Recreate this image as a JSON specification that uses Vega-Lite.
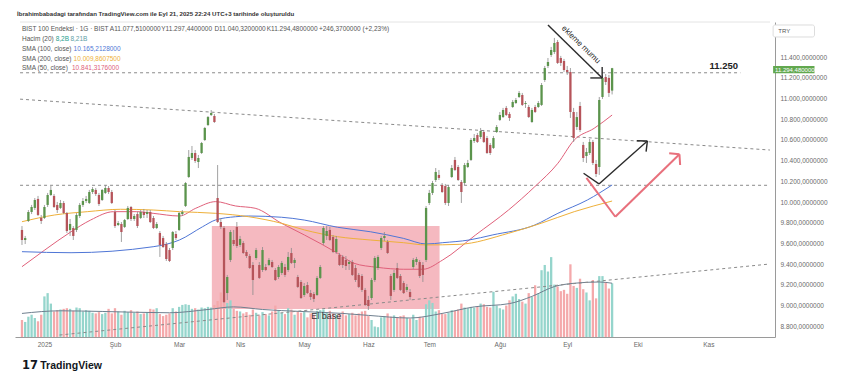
{
"$schema":"https://vega.github.io/schema/vega-lite/v6.json",
"width":760,"height":315,
"autosize":{"type":"none"},
"padding":{"left":15,"top":22,"right":66,"bottom":41},
"background":"white",
"title":{"text":"İbrahimbabadagi tarafından TradingView.com ile Eyl 21, 2025 22:24 UTC+3 tarihinde oluşturuldu","anchor":"start","frame":"group","fontSize":6.1,"fontWeight":"bold","color":"#333333","offset":4,"dx":2,"font":"Liberation Sans"},
"config":{"view":{"stroke":null},"font":"Liberation Sans","axis":{"grid":false,"ticks":false,"labelFontSize":6.5,"labelColor":"#6b6b6b","domainColor":"#9a9a9a","domainWidth":1,"labelOverlap":false},"axisRight":{"labelOverlap":false},"axisY":{"labelOverlap":false}},
"datasets":{
"candles":[
{"n":0,"o":9730,"h":9768,"l":9585,"c":9633,"v":2.6},
{"n":1,"o":9633,"h":9672,"l":9594,"c":9652,"v":2.3},
{"n":2,"o":9817,"h":9923,"l":9807,"c":9904,"v":3.1},
{"n":3,"o":9904,"h":9972,"l":9884,"c":9952,"v":3.4},
{"n":4,"o":9943,"h":10039,"l":9923,"c":10020,"v":2.9},
{"n":5,"o":10030,"h":10059,"l":9865,"c":9875,"v":2.4},
{"n":6,"o":9846,"h":9875,"l":9788,"c":9817,"v":3.4},
{"n":7,"o":9846,"h":9972,"l":9836,"c":9952,"v":6.2},
{"n":8,"o":9972,"h":10088,"l":9952,"c":10068,"v":6.7},
{"n":9,"o":10068,"h":10155,"l":10059,"c":10117,"v":5.1},
{"n":10,"o":10059,"h":10078,"l":9943,"c":9952,"v":3.9},
{"n":11,"o":9972,"h":10001,"l":9894,"c":9923,"v":4.1},
{"n":12,"o":9943,"h":10020,"l":9933,"c":9991,"v":4.2},
{"n":13,"o":9991,"h":10010,"l":9884,"c":9894,"v":4.3},
{"n":14,"o":9894,"h":9904,"l":9701,"c":9720,"v":4.4},
{"n":15,"o":9730,"h":9836,"l":9672,"c":9788,"v":4.3},
{"n":16,"o":9749,"h":9768,"l":9633,"c":9672,"v":4.0},
{"n":17,"o":9730,"h":9894,"l":9710,"c":9875,"v":4.5},
{"n":18,"o":9865,"h":9991,"l":9846,"c":9972,"v":4.4},
{"n":19,"o":9972,"h":10039,"l":9952,"c":10010,"v":3.9},
{"n":20,"o":10010,"h":10059,"l":9991,"c":10030,"v":4.1},
{"n":21,"o":9991,"h":10117,"l":9981,"c":10097,"v":4.0},
{"n":22,"o":10097,"h":10145,"l":10078,"c":10126,"v":3.7},
{"n":23,"o":10117,"h":10136,"l":10059,"c":10078,"v":3.6},
{"n":24,"o":10068,"h":10088,"l":9962,"c":9981,"v":3.8},
{"n":25,"o":10020,"h":10126,"l":10010,"c":10117,"v":3.5},
{"n":26,"o":10088,"h":10165,"l":10078,"c":10136,"v":3.7},
{"n":27,"o":10136,"h":10155,"l":10078,"c":10097,"v":4.3},
{"n":28,"o":10097,"h":10117,"l":9981,"c":9991,"v":3.6},
{"n":29,"o":9904,"h":9923,"l":9749,"c":9768,"v":4.4},
{"n":30,"o":9778,"h":9817,"l":9768,"c":9797,"v":3.9},
{"n":31,"o":9788,"h":9807,"l":9614,"c":9710,"v":3.4},
{"n":32,"o":9759,"h":9836,"l":9749,"c":9826,"v":4.0},
{"n":33,"o":9836,"h":9962,"l":9826,"c":9943,"v":3.8},
{"n":34,"o":9952,"h":9962,"l":9817,"c":9836,"v":4.1},
{"n":35,"o":9836,"h":9884,"l":9817,"c":9865,"v":3.7},
{"n":36,"o":9884,"h":9904,"l":9749,"c":9768,"v":3.9},
{"n":37,"o":9846,"h":9923,"l":9836,"c":9904,"v":3.5},
{"n":38,"o":9904,"h":9933,"l":9846,"c":9875,"v":3.6},
{"n":39,"o":9884,"h":9923,"l":9846,"c":9904,"v":3.8},
{"n":40,"o":9904,"h":9923,"l":9797,"c":9807,"v":4.3},
{"n":41,"o":9846,"h":9865,"l":9739,"c":9749,"v":4.2},
{"n":42,"o":9749,"h":9807,"l":9739,"c":9788,"v":4.4},
{"n":43,"o":9701,"h":9720,"l":9469,"c":9585,"v":3.5},
{"n":44,"o":9652,"h":9672,"l":9556,"c":9565,"v":3.2},
{"n":45,"o":9594,"h":9614,"l":9430,"c":9449,"v":3.4},
{"n":46,"o":9536,"h":9556,"l":9420,"c":9430,"v":3.6},
{"n":47,"o":9556,"h":9720,"l":9536,"c":9710,"v":4.4},
{"n":48,"o":9691,"h":9720,"l":9633,"c":9652,"v":3.9},
{"n":49,"o":9730,"h":9904,"l":9720,"c":9894,"v":4.6},
{"n":50,"o":9884,"h":9923,"l":9865,"c":9904,"v":4.9},
{"n":51,"o":9962,"h":10194,"l":9952,"c":10184,"v":5.0},
{"n":52,"o":10242,"h":10503,"l":10233,"c":10436,"v":4.9},
{"n":53,"o":10426,"h":10542,"l":10407,"c":10474,"v":4.3},
{"n":54,"o":10474,"h":10503,"l":10378,"c":10397,"v":4.4},
{"n":55,"o":10387,"h":10455,"l":10329,"c":10426,"v":4.2},
{"n":56,"o":10474,"h":10581,"l":10465,"c":10571,"v":4.5},
{"n":57,"o":10600,"h":10726,"l":10590,"c":10716,"v":4.4},
{"n":58,"o":10745,"h":10832,"l":10735,"c":10822,"v":4.6},
{"n":59,"o":10842,"h":10890,"l":10832,"c":10861,"v":4.5},
{"n":60,"o":10832,"h":10851,"l":10765,"c":10774,"v":4.9},
{"n":61,"o":10039,"h":10358,"l":9797,"c":9807,"v":5.5},
{"n":62,"o":9807,"h":9846,"l":9739,"c":9759,"v":6.8},
{"n":63,"o":9749,"h":9768,"l":9024,"c":9033,"v":5.9},
{"n":64,"o":9120,"h":9295,"l":9053,"c":9275,"v":5.2},
{"n":65,"o":9440,"h":9730,"l":9420,"c":9710,"v":5.6},
{"n":66,"o":9633,"h":9730,"l":9575,"c":9594,"v":4.3},
{"n":67,"o":9759,"h":9807,"l":9556,"c":9575,"v":4.0},
{"n":68,"o":9585,"h":9672,"l":9565,"c":9643,"v":3.9},
{"n":69,"o":9604,"h":9623,"l":9498,"c":9507,"v":3.6},
{"n":70,"o":9517,"h":9536,"l":9459,"c":9478,"v":3.8},
{"n":71,"o":9478,"h":9498,"l":9353,"c":9362,"v":3.4},
{"n":72,"o":9391,"h":9420,"l":9101,"c":9246,"v":4.2},
{"n":73,"o":9459,"h":9556,"l":9440,"c":9536,"v":3.7},
{"n":74,"o":9391,"h":9420,"l":9256,"c":9266,"v":3.3},
{"n":75,"o":9343,"h":9565,"l":9324,"c":9536,"v":3.8},
{"n":76,"o":9372,"h":9401,"l":9333,"c":9343,"v":3.5},
{"n":77,"o":9391,"h":9459,"l":9382,"c":9440,"v":3.3},
{"n":78,"o":9420,"h":9440,"l":9362,"c":9372,"v":3.9},
{"n":79,"o":9343,"h":9362,"l":9237,"c":9246,"v":4.8},
{"n":80,"o":9275,"h":9391,"l":9256,"c":9372,"v":4.1},
{"n":81,"o":9314,"h":9430,"l":9295,"c":9411,"v":3.7},
{"n":82,"o":9372,"h":9401,"l":9275,"c":9295,"v":3.5},
{"n":83,"o":9343,"h":9517,"l":9324,"c":9469,"v":4.4},
{"n":84,"o":9507,"h":9556,"l":9401,"c":9411,"v":4.2},
{"n":85,"o":9411,"h":9459,"l":9362,"c":9440,"v":3.4},
{"n":86,"o":9275,"h":9295,"l":9169,"c":9179,"v":3.9},
{"n":87,"o":9227,"h":9246,"l":9063,"c":9072,"v":3.7},
{"n":88,"o":9101,"h":9217,"l":9082,"c":9188,"v":3.8},
{"n":89,"o":9198,"h":9227,"l":9111,"c":9120,"v":3.0},
{"n":90,"o":9120,"h":9150,"l":9053,"c":9082,"v":3.6},
{"n":91,"o":9111,"h":9130,"l":9033,"c":9063,"v":3.4},
{"n":92,"o":9101,"h":9285,"l":9092,"c":9266,"v":4.0},
{"n":93,"o":9266,"h":9391,"l":9256,"c":9372,"v":4.1},
{"n":94,"o":9604,"h":9768,"l":9585,"c":9749,"v":4.2},
{"n":95,"o":9672,"h":9768,"l":9633,"c":9720,"v":3.8},
{"n":96,"o":9730,"h":9759,"l":9623,"c":9633,"v":4.0},
{"n":97,"o":9662,"h":9681,"l":9507,"c":9517,"v":3.6},
{"n":98,"o":9517,"h":9672,"l":9498,"c":9643,"v":3.4},
{"n":99,"o":9488,"h":9507,"l":9382,"c":9391,"v":3.6},
{"n":100,"o":9469,"h":9488,"l":9362,"c":9391,"v":3.9},
{"n":101,"o":9440,"h":9478,"l":9343,"c":9382,"v":3.3},
{"n":102,"o":9401,"h":9440,"l":9343,"c":9420,"v":3.5},
{"n":103,"o":9420,"h":9440,"l":9285,"c":9295,"v":3.7},
{"n":104,"o":9362,"h":9391,"l":9227,"c":9246,"v":3.3},
{"n":105,"o":9295,"h":9314,"l":9169,"c":9179,"v":3.6},
{"n":106,"o":9285,"h":9304,"l":9130,"c":9150,"v":3.9},
{"n":107,"o":9150,"h":9169,"l":8995,"c":9005,"v":4.0},
{"n":108,"o":9053,"h":9092,"l":8956,"c":8995,"v":3.2},
{"n":109,"o":9072,"h":9266,"l":9053,"c":9246,"v":2.6},
{"n":110,"o":9246,"h":9478,"l":9227,"c":9459,"v":1.6},
{"n":111,"o":9362,"h":9488,"l":9343,"c":9469,"v":1.5},
{"n":112,"o":9556,"h":9672,"l":9536,"c":9652,"v":3.0},
{"n":113,"o":9652,"h":9710,"l":9623,"c":9672,"v":3.2},
{"n":114,"o":9614,"h":9633,"l":9498,"c":9507,"v":3.6},
{"n":115,"o":9285,"h":9304,"l":9053,"c":9092,"v":3.1},
{"n":116,"o":9150,"h":9343,"l":9130,"c":9314,"v":3.3},
{"n":117,"o":9362,"h":9411,"l":9256,"c":9266,"v":3.0},
{"n":118,"o":9285,"h":9304,"l":9140,"c":9150,"v":3.2},
{"n":119,"o":9217,"h":9237,"l":9111,"c":9120,"v":3.3},
{"n":120,"o":9150,"h":9208,"l":9130,"c":9179,"v":2.9},
{"n":121,"o":9130,"h":9159,"l":9053,"c":9082,"v":2.8},
{"n":122,"o":9372,"h":9459,"l":9353,"c":9440,"v":3.4},
{"n":123,"o":9420,"h":9469,"l":9391,"c":9449,"v":2.6},
{"n":124,"o":9420,"h":9440,"l":9266,"c":9285,"v":3.1},
{"n":125,"o":9391,"h":9420,"l":9227,"c":9295,"v":3.0},
{"n":126,"o":9440,"h":9962,"l":9420,"c":9943,"v":5.0},
{"n":127,"o":9991,"h":10117,"l":9972,"c":10088,"v":5.6},
{"n":128,"o":10088,"h":10204,"l":10068,"c":10184,"v":5.2},
{"n":129,"o":10213,"h":10329,"l":10194,"c":10291,"v":3.9},
{"n":130,"o":10262,"h":10310,"l":10213,"c":10233,"v":4.1},
{"n":131,"o":10165,"h":10184,"l":10088,"c":10097,"v":3.6},
{"n":132,"o":10155,"h":10175,"l":9972,"c":9991,"v":3.5},
{"n":133,"o":9991,"h":10165,"l":9962,"c":10145,"v":3.7},
{"n":134,"o":10242,"h":10358,"l":10233,"c":10329,"v":4.1},
{"n":135,"o":10407,"h":10436,"l":10300,"c":10310,"v":4.0},
{"n":136,"o":10339,"h":10358,"l":10204,"c":10213,"v":4.2},
{"n":137,"o":10194,"h":10213,"l":9991,"c":10097,"v":5.1},
{"n":138,"o":10184,"h":10378,"l":10165,"c":10358,"v":4.5},
{"n":139,"o":10339,"h":10407,"l":10329,"c":10378,"v":4.4},
{"n":140,"o":10407,"h":10619,"l":10397,"c":10600,"v":4.6},
{"n":141,"o":10590,"h":10658,"l":10571,"c":10619,"v":4.5},
{"n":142,"o":10648,"h":10668,"l":10571,"c":10581,"v":4.6},
{"n":143,"o":10629,"h":10716,"l":10610,"c":10687,"v":5.1},
{"n":144,"o":10677,"h":10697,"l":10571,"c":10581,"v":5.0},
{"n":145,"o":10619,"h":10639,"l":10465,"c":10474,"v":4.6},
{"n":146,"o":10552,"h":10571,"l":10455,"c":10474,"v":4.5},
{"n":147,"o":10523,"h":10639,"l":10513,"c":10619,"v":6.9},
{"n":148,"o":10677,"h":10745,"l":10668,"c":10726,"v":4.8},
{"n":149,"o":10794,"h":10871,"l":10784,"c":10842,"v":4.4},
{"n":150,"o":10822,"h":10910,"l":10813,"c":10890,"v":4.2},
{"n":151,"o":10910,"h":10929,"l":10832,"c":10842,"v":4.8},
{"n":152,"o":10852,"h":10871,"l":10784,"c":10813,"v":5.6},
{"n":153,"o":10919,"h":10987,"l":10910,"c":10968,"v":6.2},
{"n":154,"o":10958,"h":11006,"l":10948,"c":10987,"v":6.6},
{"n":155,"o":11016,"h":11074,"l":11006,"c":11055,"v":5.8},
{"n":156,"o":11035,"h":11055,"l":10929,"c":10939,"v":5.4},
{"n":157,"o":10948,"h":10977,"l":10910,"c":10958,"v":5.1},
{"n":158,"o":10919,"h":10939,"l":10813,"c":10822,"v":6.7},
{"n":159,"o":10774,"h":10910,"l":10765,"c":10890,"v":6.1},
{"n":160,"o":10919,"h":10939,"l":10861,"c":10871,"v":7.9},
{"n":161,"o":10919,"h":10977,"l":10910,"c":10958,"v":6.7},
{"n":162,"o":10939,"h":11151,"l":10929,"c":11132,"v":10.2},
{"n":163,"o":11180,"h":11316,"l":11161,"c":11296,"v":11.0},
{"n":164,"o":11316,"h":11393,"l":11296,"c":11354,"v":10.0},
{"n":165,"o":11422,"h":11500,"l":11403,"c":11470,"v":12.2},
{"n":166,"o":11451,"h":11587,"l":11432,"c":11538,"v":8.0},
{"n":167,"o":11548,"h":11567,"l":11335,"c":11345,"v":7.7},
{"n":168,"o":11393,"h":11413,"l":11316,"c":11345,"v":7.0},
{"n":169,"o":11364,"h":11384,"l":11258,"c":11277,"v":7.2},
{"n":170,"o":11277,"h":11316,"l":11229,"c":11258,"v":6.6},
{"n":171,"o":11258,"h":11296,"l":10813,"c":10871,"v":11.1},
{"n":172,"o":10871,"h":10910,"l":10581,"c":10619,"v":7.8},
{"n":173,"o":10726,"h":10871,"l":10697,"c":10822,"v":7.5},
{"n":174,"o":10929,"h":10968,"l":10677,"c":10697,"v":8.9},
{"n":175,"o":10552,"h":10581,"l":10387,"c":10426,"v":7.3},
{"n":176,"o":10445,"h":10523,"l":10378,"c":10484,"v":6.8},
{"n":177,"o":10474,"h":10610,"l":10455,"c":10581,"v":5.6},
{"n":178,"o":10581,"h":10600,"l":10358,"c":10378,"v":8.7},
{"n":179,"o":10368,"h":10407,"l":10242,"c":10271,"v":5.9},
{"n":180,"o":10339,"h":11016,"l":10262,"c":10987,"v":9.3},
{"n":181,"o":11016,"h":11229,"l":10997,"c":11200,"v":9.3},
{"n":182,"o":11209,"h":11238,"l":11132,"c":11161,"v":8.4},
{"n":183,"o":11200,"h":11229,"l":11016,"c":11055,"v":7.4},
{"n":184,"o":11077.51,"h":11297.44,"l":11040.32,"c":11294.48,"v":8.2}
],
"sma":[
{"n":0,"p":9375,"s":"s50"},{"n":7.1,"p":9536,"s":"s50"},{"n":15.3,"p":9713,"s":"s50"},{"n":21.4,"p":9826,"s":"s50"},{"n":28.6,"p":9907,"s":"s50"},{"n":35.8,"p":9907,"s":"s50"},{"n":40.9,"p":9891,"s":"s50"},{"n":49.1,"p":9865,"s":"s50"},{"n":54.2,"p":9940,"s":"s50"},{"n":60.4,"p":10004,"s":"s50"},{"n":66.6,"p":9962,"s":"s50"},{"n":72.7,"p":9940,"s":"s50"},{"n":80.9,"p":9795,"s":"s50"},{"n":88.1,"p":9681,"s":"s50"},{"n":98.4,"p":9505,"s":"s50"},{"n":103.5,"p":9408,"s":"s50"},{"n":110.7,"p":9369,"s":"s50"},{"n":118.9,"p":9350,"s":"s50"},{"n":125,"p":9350,"s":"s50"},{"n":131.2,"p":9440,"s":"s50"},{"n":141.4,"p":9681,"s":"s50"},{"n":151.7,"p":9923,"s":"s50"},{"n":159.9,"p":10149,"s":"s50"},{"n":167.1,"p":10375,"s":"s50"},{"n":172.2,"p":10600,"s":"s50"},{"n":178.4,"p":10713,"s":"s50"},{"n":184,"p":10841.32,"s":"s50"},
{"n":0,"p":9520,"s":"s100"},{"n":15.3,"p":9510,"s":"s100"},{"n":40.9,"p":9568,"s":"s100"},{"n":49.1,"p":9633,"s":"s100"},{"n":56.3,"p":9761,"s":"s100"},{"n":60.3,"p":9826,"s":"s100"},{"n":66.6,"p":9858,"s":"s100"},{"n":70.7,"p":9865,"s":"s100"},{"n":80.9,"p":9853,"s":"s100"},{"n":88,"p":9826,"s":"s100"},{"n":98.4,"p":9756,"s":"s100"},{"n":108.6,"p":9713,"s":"s100"},{"n":118.9,"p":9649,"s":"s100"},{"n":126.1,"p":9594,"s":"s100"},{"n":131.2,"p":9607,"s":"s100"},{"n":139.4,"p":9633,"s":"s100"},{"n":146.6,"p":9681,"s":"s100"},{"n":159.9,"p":9778,"s":"s100"},{"n":167.1,"p":9891,"s":"s100"},{"n":176.3,"p":10020,"s":"s100"},{"n":184,"p":10165.21,"s":"s100"},
{"n":0,"p":9810,"s":"s200"},{"n":10.2,"p":9875,"s":"s200"},{"n":20.4,"p":9907,"s":"s200"},{"n":30.7,"p":9930,"s":"s200"},{"n":40.9,"p":9923,"s":"s200"},{"n":49.1,"p":9907,"s":"s200"},{"n":60.4,"p":9891,"s":"s200"},{"n":70.7,"p":9858,"s":"s200"},{"n":80.9,"p":9795,"s":"s200"},{"n":88.1,"p":9730,"s":"s200"},{"n":98.4,"p":9665,"s":"s200"},{"n":108.6,"p":9633,"s":"s200"},{"n":118.9,"p":9607,"s":"s200"},{"n":126.1,"p":9585,"s":"s200"},{"n":136.3,"p":9591,"s":"s200"},{"n":151.7,"p":9698,"s":"s200"},{"n":161.9,"p":9795,"s":"s200"},{"n":172.2,"p":9907,"s":"s200"},{"n":184,"p":10009.86,"s":"s200"}
],
"vma":[
{"n":0,"v":3.6},{"n":12,"v":4.0},{"n":25,"v":3.9},{"n":46,"v":3.7},{"n":58,"v":4.2},{"n":66,"v":4.6},{"n":75,"v":4.2},{"n":87,"v":3.9},{"n":100,"v":3.6},{"n":108,"v":3.3},{"n":121,"v":2.9},{"n":131,"v":3.6},{"n":141,"v":4.6},{"n":152,"v":5.1},{"n":159,"v":6.2},{"n":166,"v":7.7},{"n":172,"v":8.2},{"n":180,"v":8.4},{"n":184,"v":8.21}
],
"dash":[
{"n":-0.6,"p":10995,"n2":233.2,"p2":10503},
{"n":-0.6,"p":11250,"n2":224,"p2":11250},
{"n":-0.6,"p":10162,"n2":233.2,"p2":10162},
{"n":11.7,"p":8714,"n2":233.2,"p2":9401}
],
"frame":[{"n":-0.615,"p":11741,"n2":233.23,"p2":11741}],
"blackarrows":[
{"n":164,"p":11712,"n2":180.9,"p2":11200},
{"n":177.2,"p":11200,"n2":180.9,"p2":11200},
{"n":180.9,"p":11306,"n2":180.9,"p2":11200},
{"n":175.1,"p":10278,"n2":179.9,"p2":10175},
{"n":179.9,"p":10175,"n2":195,"p2":10590},
{"n":191.7,"p":10593,"n2":195,"p2":10590},
{"n":194.6,"p":10487,"n2":195,"p2":10590}
],
"redarrows":[
{"n":176,"p":10233,"n2":185,"p2":9858},
{"n":185,"p":9858,"n2":205,"p2":10462},
{"n":201.8,"p":10472,"n2":205,"p2":10462},
{"n":205.2,"p":10358,"n2":205,"p2":10462}
],
"zone":[{"n":59.2,"n2":130.2,"p":8966,"p2":9768}],
"trybox":[{"n":234.2,"n2":247.1,"p":11596,"p2":11712}],
"pricebox":[{"n":234.2,"n2":247.1,"p":11245,"p2":11315}],
"legend":[
{"n":0,"p":11669,"t":"BIST 100 Endeksi · 1G · BIST"},
{"n":27.4,"p":11669,"t":"A11.077,5100000"},
{"n":43.4,"p":11669,"t":"Y11.297,4400000"},
{"n":60,"p":11669,"t":"D11.040,3200000"},
{"n":76.3,"p":11669,"t":"K11.294,4800000"},
{"n":92.6,"p":11669,"t":"+246,3700000 (+2,23%)"},
{"n":0,"p":11580,"t":"Hacim (20)"},
{"n":0,"p":11480,"t":"SMA (100, close)"},
{"n":0,"p":11386,"t":"SMA (200, close)"},
{"n":0,"p":11299,"t":"SMA (50, close)"}
],
"legendvals":[
{"n":10.5,"p":11580,"t":"8,2B","s":"vol"},
{"n":15.1,"p":11580,"t":"8,21B","s":"vma"},
{"n":16.1,"p":11480,"t":"10.165,2128000","s":"s100"},
{"n":16.1,"p":11386,"t":"10.009,8607500","s":"s200"},
{"n":15.6,"p":11299,"t":"10.841,3176000","s":"s50"}
]
},
"encoding":{"x":{"field":"n","type":"quantitative","title":null,"scale":{"domain":[-0.615,233.23],"nice":false,"zero":false},"axis":{"values":[7,29,49,68,88,108,127,149,170,192,214],"labelExpr":"['2025','Şub','Mar','Nis','May','Haz','Tem','Ağu','Eyl','Eki','Kas'][indexof([7,29,49,68,88,108,127,149,170,192,214], datum.value)]","labelPadding":4,"labelFlush":false,"labelOverlap":false,"title":null}}},
"layer":[
{"data":{"name":"zone"},"mark":{"type":"rect","color":"#f5b9c0"},
 "encoding":{"x2":{"field":"n2"},"y":{"field":"p","type":"quantitative","scale":{"domain":[8695,11741],"nice":false,"zero":false},"axis":null},"y2":{"field":"p2"}}},
{"layer":[
 {"data":{"name":"candles"},"mark":{"type":"bar","width":2.3,"orient":"vertical"},
  "encoding":{"y":{"field":"v","type":"quantitative","scale":{"domain":[0,48.1],"nice":false,"zero":true},"axis":null},
   "color":{"condition":{"test":"datum.c >= datum.o","value":"#95d5cc"},"value":"#f4a9ab"}}},
 {"data":{"name":"vma"},"mark":{"type":"line","color":"#6f7f8f","strokeWidth":1,"interpolate":"monotone"},
  "encoding":{"y":{"field":"v","type":"quantitative","scale":{"domain":[0,48.1],"nice":false,"zero":true},"axis":null}}}
]},
{"layer":[
 {"data":{"name":"dash"},"mark":{"type":"rule","color":"#8a8a8a","strokeWidth":1,"strokeDash":[3,3]},
  "encoding":{"x2":{"field":"n2"},"y":{"field":"p","type":"quantitative","title":null,"scale":{"domain":[8695,11741],"nice":false,"zero":false},
   "axis":{"orient":"right","values":[8800,9000,9200,9400,9600,9800,10000,10200,10400,10600,10800,11000,11200,11400],"tickCount":14,"labelExpr":"replace(format(datum.value, ','), ',', '.') + ',0000000'","labelPadding":5,"title":null,"labelFontSize":6.5,"labelOverlap":false,"labelBound":false}},"y2":{"field":"p2"}}},
 {"data":{"name":"frame"},"mark":{"type":"rule","color":"#e4e4e4","strokeWidth":1},
  "encoding":{"x2":{"field":"n2"},"y":{"field":"p","type":"quantitative"},"y2":{"field":"p2"}}},
 {"data":{"name":"sma"},"mark":{"type":"line","strokeWidth":1,"interpolate":"monotone"},
  "encoding":{"y":{"field":"p","type":"quantitative"},"color":{"field":"s","type":"nominal","legend":null,"scale":{"domain":["vol","vma","s100","s200","s50"],"range":["#26a08f","#5e9ea6","#4f76d6","#eeb03a","#e0607a"]}},"detail":{"field":"s"}}},
 {"data":{"name":"candles"},"mark":{"type":"rule","strokeWidth":0.8,"color":"#8a8a8a"},
  "encoding":{"y":{"field":"l","type":"quantitative"},"y2":{"field":"h"}}},
 {"data":{"name":"candles"},"mark":{"type":"bar","width":2.3,"orient":"vertical"},
  "encoding":{"y":{"field":"o","type":"quantitative"},"y2":{"field":"c"},
   "color":{"condition":{"test":"datum.c >= datum.o","value":"#5b944c"},"value":"#b6545a"}}},
 {"data":{"name":"blackarrows"},"mark":{"type":"rule","color":"#2b2b2b","strokeWidth":1.4},
  "encoding":{"x2":{"field":"n2"},"y":{"field":"p","type":"quantitative"},"y2":{"field":"p2"}}},
 {"data":{"name":"redarrows"},"mark":{"type":"rule","color":"#e8707c","strokeWidth":2},
  "encoding":{"x2":{"field":"n2"},"y":{"field":"p","type":"quantitative"},"y2":{"field":"p2"}}},
 {"data":{"name":"trybox"},"mark":{"type":"rect","fill":"white","stroke":"#dddddd","strokeWidth":1,"cornerRadius":2},
  "encoding":{"x2":{"field":"n2"},"y":{"field":"p","type":"quantitative"},"y2":{"field":"p2"}}},
 {"data":{"name":"pricebox"},"mark":{"type":"rect","color":"#62a84f"},
  "encoding":{"x2":{"field":"n2"},"y":{"field":"p","type":"quantitative"},"y2":{"field":"p2"}}},
 {"data":{"values":[{"n":235.8,"p":11654,"t":"TRY"}]},"mark":{"type":"text","align":"left","baseline":"middle","fontSize":6,"color":"#555555"},
  "encoding":{"y":{"field":"p","type":"quantitative"},"text":{"field":"t"}}},
 {"data":{"values":[{"n":234.8,"p":11280,"t":"11.294,4800000"}]},"mark":{"type":"text","align":"left","baseline":"middle","fontSize":6,"color":"white"},
  "encoding":{"y":{"field":"p","type":"quantitative"},"text":{"field":"t"}}},
 {"data":{"name":"legend"},"mark":{"type":"text","align":"left","baseline":"middle","fontSize":6.5,"color":"#555555"},
  "encoding":{"y":{"field":"p","type":"quantitative"},"text":{"field":"t"}}},
 {"data":{"name":"legendvals"},"mark":{"type":"text","align":"left","baseline":"middle","fontSize":6.5},
  "encoding":{"y":{"field":"p","type":"quantitative"},"text":{"field":"t"},"color":{"field":"s","type":"nominal","legend":null,"scale":{"domain":["vol","vma","s100","s200","s50"],"range":["#26a08f","#5e9ea6","#4f76d6","#eeb03a","#e0607a"]}}}},
 {"data":{"values":[{"n":218.8,"p":11316,"t":"11.250"}]},"mark":{"type":"text","align":"center","baseline":"middle","fontSize":9.5,"fontWeight":"bold","color":"#222222"},
  "encoding":{"y":{"field":"p","type":"quantitative"},"text":{"field":"t"}}},
 {"data":{"values":[{"n":94.9,"p":8898,"t":"El base"}]},"mark":{"type":"text","align":"center","baseline":"middle","fontSize":9,"color":"#333333"},
  "encoding":{"y":{"field":"p","type":"quantitative"},"text":{"field":"t"}}},
 {"data":{"values":[{"n":174.2,"p":11520,"t":"ekleme mumu"}]},"mark":{"type":"text","align":"center","baseline":"middle","fontSize":8,"angle":44,"color":"#222222"},
  "encoding":{"y":{"field":"p","type":"quantitative"},"text":{"field":"t"}}},
 {"data":{"values":[{"n":5.7,"p":8414,"t":"TradingView"}]},"mark":{"type":"text","align":"left","baseline":"middle","fontSize":10.5,"fontWeight":"bold","color":"#131722"},
  "encoding":{"y":{"field":"p","type":"quantitative"},"text":{"field":"t"}}},
 {"data":{"values":[{"n":0,"p":8414,"t":"17"}]},"mark":{"type":"text","align":"left","baseline":"middle","fontSize":11.5,"fontWeight":"bold","font":"DejaVu Sans","color":"#131722"},
  "encoding":{"y":{"field":"p","type":"quantitative"},"text":{"field":"t"}}}
]}
],
"resolve":{"scale":{"y":"independent"}}
}
